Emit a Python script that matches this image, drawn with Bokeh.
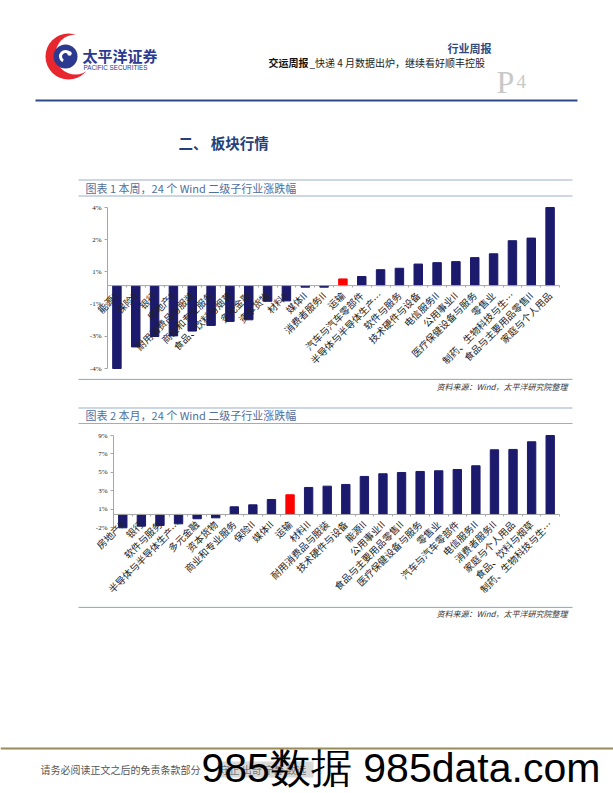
from math import pi
from bokeh.plotting import figure
from bokeh.layouts import column
from bokeh.models import Range1d, FixedTicker, ColumnDataSource, LinearAxis
from bokeh.core.properties import value
from bokeh.embed import file_html
from bokeh.resources import INLINE

W = 613
CJK = "Noto Sans CJK SC"

# ---------------- data ----------------
title1 = "图表 1 本周，24 个 Wind 二级子行业涨跌幅"
cats1 = ["能源II", "保险II", "银行", "房地产II", "耐用消费品与服装", "商业和专业服务",
         "食品、饮料与烟草", "多元金融", "资本货物", "材料II", "媒体II", "消费者服务II",
         "运输", "汽车与汽车零部件", "半导体与半导体生产…", "软件与服务", "技术硬件与设备",
         "电信服务II", "公用事业II", "医疗保健设备与服务", "零售业", "制药、生物科技与生…",
         "食品与主要用品零售II", "家庭与个人用品"]
vals1 = [-4.12, -3.05, -2.53, -2.50, -2.26, -1.98, -1.78, -1.70, -0.78, -0.76, -0.08, -0.08,
         0.33, 0.45, 0.79, 0.86, 1.07, 1.14, 1.19, 1.39, 1.58, 2.23, 2.36, 3.88]
ticks1 = [-4.12, -2.52, -0.92, 0.68, 2.28, 3.88]
ticklabels1 = ["-4%", "-3%", "-1%", "1%", "2%", "4%"]

title2 = "图表 2 本月，24 个 Wind 二级子行业涨跌幅"
cats2 = ["房地产II", "银行", "软件与服务", "半导体与半导体生产…", "多元金融", "资本货物",
         "商业和专业服务", "保险II", "媒体II", "运输", "材料II", "耐用消费品与服装",
         "技术硬件与设备", "能源II", "公用事业II", "食品与主要用品零售II", "医疗保健设备与服务",
         "零售业", "汽车与汽车零部件", "电信服务II", "消费者服务II", "家庭与个人用品",
         "食品、饮料与烟草", "制药、生物科技与生…"]
vals2 = [-1.55, -1.36, -1.28, -1.09, -0.50, -0.39, 0.89, 1.12, 1.74, 2.29, 3.14, 3.29,
         3.49, 4.42, 4.73, 4.88, 5.00, 5.08, 5.23, 5.66, 7.52, 7.56, 8.45, 9.18]
ticks2 = [-1.55, 0.60, 2.74, 4.89, 7.04, 9.18]
ticklabels2 = ["-2%", "1%", "3%", "5%", "7%", "9%"]

highlight = "运输"
source_note = "资料来源：Wind，太平洋研究院整理"

NAVY = "#1C1A6C"
RED = "#FF0000"
BAND = "#9AAFC7"
AXIS = "#A6A6A6"
TITLE_BLUE = "#4F6E9C"


def deco(h):
    f = figure(width=W, height=h, x_range=Range1d(0, W), y_range=Range1d(h, 0),
               output_backend="svg", toolbar_location=None, min_border=0,
               x_axis_location=None, y_axis_location=None)
    f.grid.visible = False
    f.outline_line_color = None
    f.background_fill_color = "white"
    f.border_fill_color = "white"
    return f


def txt(f, x, y, s, size, color="#222222", font=CJK, align="left", style="normal",
        baseline="middle"):
    f.text(x=[x], y=[y], text=[s], text_font=value(font), text_font_size=value(size),
           text_color=color, text_align=align, text_baseline=baseline,
           text_font_style=style)


def hline(f, x0, x1, y, color, w=1.0):
    f.segment(x0=[x0], y0=[y], x1=[x1], y1=[y], line_color=color, line_width=w)


def bar_chart(cats, vals, ticks, labels, h, left_px, right_px, top_px, bottom_px):
    """Figure spanning the full page width; the plotting block sits between
    left_px..right_px horizontally and top_px..bottom_px vertically (in figure pixels)."""
    n = len(cats)
    step = (right_px - left_px) / n
    k = (bottom_px - top_px) / (ticks[-1] - ticks[0])
    xr = Range1d(-left_px / step, (W - left_px) / step)
    yr = Range1d(ticks[0] - (h - bottom_px) / k, ticks[-1] + top_px / k)
    centers = [i + 0.5 for i in range(n)]
    colors = [RED if c == highlight else NAVY for c in cats]
    src = ColumnDataSource(dict(x=centers, val=vals, color=colors))
    p = figure(x_range=xr, y_range=yr, width=W, height=h, output_backend="svg",
               toolbar_location=None, min_border=0,
               x_axis_location=None, y_axis_location=None)
    p.grid.visible = False
    p.outline_line_color = None
    p.background_fill_color = "white"
    p.border_fill_color = "white"

    p.vbar(x="x", top="val", bottom=0, width=0.45, color="color", source=src)
    # baseline and value-axis line
    p.segment(x0=[0], y0=[0], x1=[n], y1=[0], line_color=AXIS, line_width=1)
    p.segment(x0=[0], y0=[ticks[0]], x1=[0], y1=[ticks[-1]], line_color=AXIS, line_width=1)

    xa = LinearAxis(fixed_location=0)
    xa.ticker = FixedTicker(ticks=centers, minor_ticks=list(range(n + 1)))
    xa.major_label_overrides = {c: s for c, s in zip(centers, cats)}
    xa.major_label_orientation = pi / 4
    xa.axis_line_color = None
    xa.major_tick_line_color = None
    xa.minor_tick_line_color = AXIS
    xa.minor_tick_out = 2
    xa.minor_tick_in = 0
    xa.major_label_text_font = CJK
    xa.major_label_text_font_size = "9.7px"
    xa.major_label_text_color = "#222222"
    xa.major_label_standoff = 2
    p.add_layout(xa, "below")

    ya = LinearAxis(fixed_location=0)
    ya.ticker = FixedTicker(ticks=ticks, minor_ticks=[])
    ya.major_label_overrides = {t: l for t, l in zip(ticks, labels)}
    ya.axis_line_color = None
    ya.major_tick_line_color = AXIS
    ya.major_tick_out = 3
    ya.major_tick_in = 0
    ya.minor_tick_line_color = None
    ya.major_label_text_font = "Liberation Serif"
    ya.major_label_text_font_size = "7px"
    ya.major_label_text_color = "#222222"
    ya.major_label_standoff = 3
    p.add_layout(ya, "left")
    return p


# ---------------- header (page y 0..198) ----------------
hd = deco(198)
# logo
hd.circle(x=[68], y=[56], radius=23, fill_color="#E8262D", line_color=None)
hd.circle(x=[75], y=[54], radius=20, fill_color="white", line_color=None)
hd.circle(x=[65], y=[56], radius=12, fill_color="#2B3990", line_color=None)
hd.annular_wedge(x=[65], y=[56], inner_radius=3.5, outer_radius=6.5,
                 start_angle=0.6, end_angle=4.2, fill_color="white", line_color=None)
hd.circle(x=[69], y=[53], radius=2.2, fill_color="white", line_color=None)
txt(hd, 82, 55, "太平洋证券", "15px", color="#2B3990", style="bold")
txt(hd, 83, 66.5, "PACIFIC  SECURITIES", "6.3px", color="#2B3990", font="Liberation Sans")
# right header
txt(hd, 491, 47, "行业周报", "11px", color="#2F4A7F", align="right", style="bold")
txt(hd, 268, 62, "交运周报", "10px", color="#111111", style="bold")
txt(hd, 309, 62, "_快递 4 月数据出炉，继续看好顺丰控股", "10px", color="#222222")
txt(hd, 496, 81, "P", "32px", color="#C8C8C8", font="Liberation Serif", baseline="alphabetic")
txt(hd, 516, 81, "4", "19px", color="#C8C8C8", font="Liberation Serif", baseline="alphabetic")
hline(hd, 35, 577, 100, "#2E4A86", 2)
# section heading
txt(hd, 178, 142, "二、 板块行情", "14.5px", color="#243F7A", style="bold")
# chart 1 title band
hline(hd, 78, 572, 179.5, BAND, 1.2)
hline(hd, 78, 572, 195.5, BAND, 1.2)
txt(hd, 85, 187.5, title1, "11px", color=TITLE_BLUE)

# ---------------- chart 1 (page y 198..378) ----------------
p1 = bar_chart(cats1, vals1, ticks1, ticklabels1, 180, 107, 559, 207 - 198, 368 - 198)

# ---------------- middle (page y 378..428) ----------------
md = deco(50)
Y0 = 378
hline(md, 78, 572, 378.8 - Y0, BAND, 1.2)
txt(md, 567, 386 - Y0, source_note, "8px", color="#333333", align="right", style="italic")
hline(md, 78, 572, 407.5 - Y0, BAND, 1.2)
hline(md, 78, 572, 423 - Y0, BAND, 1.2)
txt(md, 85, 414.5 - Y0, title2, "11px", color=TITLE_BLUE)

# ---------------- chart 2 (page y 428..606) ----------------
p2 = bar_chart(cats2, vals2, ticks2, ticklabels2, 178, 113, 559, 435 - 428, 527.3 - 428)

# ---------------- footer (page y 606..792) ----------------
ft = deco(186)
Y0 = 606
hline(ft, 78, 572, 606.8 - Y0, BAND, 1.2)
txt(ft, 567, 613 - Y0, source_note, "8px", color="#333333", align="right", style="italic")
hline(ft, 0, W, 748 - Y0, "#978B57", 2.2)
txt(ft, 40, 769 - Y0, "请务必阅读正文之后的免责条款部分", "10px", color="#555555")
ft.quad(left=[217], right=[313], top=[761 - Y0], bottom=[777 - Y0],
        fill_color="#D9D9D9", line_color=None)
txt(ft, 219, 769 - Y0, "守正 出奇 宁静 致远", "10px", color="#777777")
txt(ft, 201, 767 - Y0, "985数据 985data.com", "41px", color="#000000", font="Liberation Sans")

layout = column(hd, p1, md, p2, ft, spacing=0)
open("out.html", "w").write(file_html(layout, INLINE))
